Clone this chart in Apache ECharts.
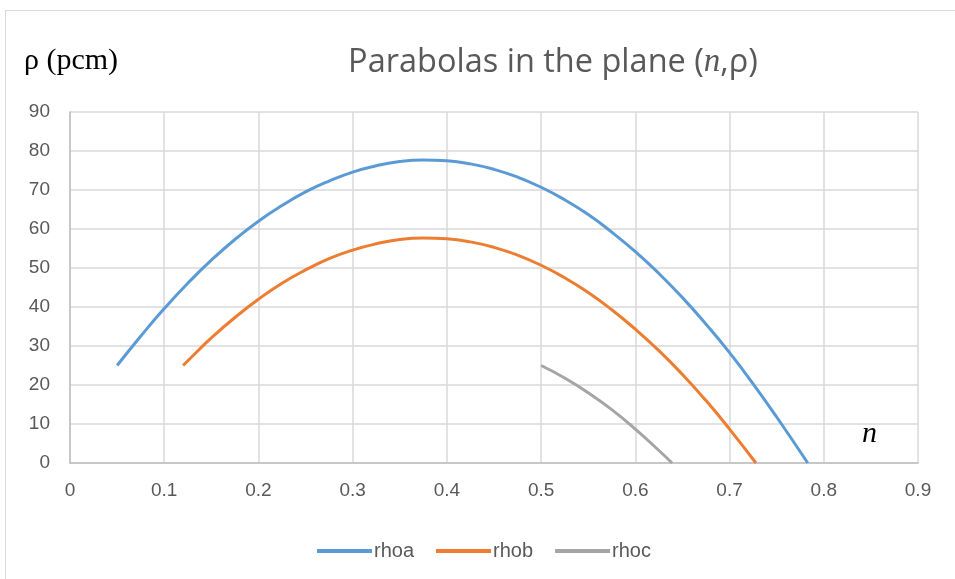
<!DOCTYPE html>
<html>
<head>
<meta charset="utf-8">
<script src="https://cdn.jsdelivr.net/npm/echarts@6/dist/echarts.min.js"></script>
<style>
html,body{margin:0;padding:0;background:#fff;}
#chart{width:955px;height:579px;}
</style>
</head>
<body>
<div id="chart"></div>
<script>
// Data
const rhoaN = [0.05, 0.075, 0.10, 0.125, 0.15, 0.175, 0.20, 0.225, 0.25, 0.275, 0.30, 0.325, 0.35, 0.375, 0.40, 0.425, 0.45, 0.475, 0.50, 0.525, 0.55, 0.575, 0.60, 0.625, 0.65, 0.675, 0.70, 0.725, 0.75, 0.783];
const rhoaV = [25.0, 32.5, 39.6, 46.1, 52.0, 57.3, 62.0, 66.0, 69.5, 72.3, 74.6, 76.2, 77.3, 77.7, 77.5, 76.7, 75.3, 73.3, 70.7, 67.5, 63.7, 59.2, 54.2, 48.6, 42.4, 35.6, 28.3, 20.3, 11.8, 0.0];
const rhobN = [0.12, 0.135, 0.15, 0.175, 0.20, 0.225, 0.25, 0.275, 0.30, 0.325, 0.35, 0.375, 0.40, 0.425, 0.45, 0.475, 0.50, 0.525, 0.55, 0.575, 0.60, 0.625, 0.65, 0.675, 0.70, 0.728];
const rhobV = [25.0, 28.6, 32.1, 37.3, 42.0, 46.1, 49.5, 52.4, 54.6, 56.2, 57.3, 57.7, 57.5, 56.7, 55.3, 53.3, 50.7, 47.5, 43.7, 39.3, 34.3, 28.8, 22.7, 16.0, 8.7, 0.0];
const rhocN = [0.50, 0.525, 0.55, 0.575, 0.60, 0.625, 0.639];
const rhocV = [25.0, 21.8, 18.0, 13.7, 8.7, 3.2, 0.0];
const xTicks = [0, 0.1, 0.2, 0.3, 0.4, 0.5, 0.6, 0.7, 0.8, 0.9];
const yTicks = [0, 10, 20, 30, 40, 50, 60, 70, 80, 90];
const seriesNames = ['rhoa', 'rhob', 'rhoc'];
const colors = ['#5B9BD5', '#ED7D31', '#A5A5A5'];

const pairs = (xs, ys) => xs.map((x, i) => [x, ys[i]]);
const seriesData = [pairs(rhoaN, rhoaV), pairs(rhobN, rhobV), pairs(rhocN, rhocV)];

const font = '"Liberation Sans", Arial, sans-serif';
const chart = echarts.init(document.getElementById('chart'));
chart.setOption({
  animation: false,
  backgroundColor: '#fff',
  title: {
    text: '{a|Parabolas in the plane (}{n|n}{a|,ρ)}',
    left: 548, top: 41, textAlign: 'center',
    textStyle: {
      fontWeight: 'normal',
      rich: {
        a: {fontFamily: '"Open Sans", sans-serif', fontWeight: 'normal', fontSize: 32.5, color: '#595959'},
        n: {fontFamily: '"Liberation Serif", serif', fontWeight: 'normal', fontStyle: 'italic', fontSize: 33, color: '#595959'}
      }
    }
  },
  graphic: [
    {type: 'rect', shape: {x: 5.5, y: 10.5, width: 1000, height: 1000}, style: {fill: 'none', stroke: '#D9D9D9', lineWidth: 1}, silent: true},
    {type: 'text', left: 24, top: 46, style: {text: 'ρ (pcm)', font: '30px "Liberation Serif", serif', fill: '#000'}},
    {type: 'text', left: 862, top: 419, style: {text: 'n', font: 'italic 30px "Liberation Serif", serif', fill: '#000'}}
  ],
  color: colors,
  legend: {
    data: seriesNames,
    top: 536, left: 312,
    itemWidth: 55, itemHeight: 4, itemGap: 22,
    icon: 'rect',
    textStyle: {color: '#595959', fontSize: 20, fontFamily: font, padding: [0, 0, 0, -3]}
  },
  grid: {left: 70, right: 37, top: 112, bottom: 116, containLabel: false},
  xAxis: {
    type: 'value', min: 0, max: 0.9, interval: 0.1,
    axisLine: {show: true, onZero: false, lineStyle: {color: '#BFBFBF', width: 1.5}},
    axisTick: {show: false},
    axisLabel: {color: '#595959', fontSize: 19, fontFamily: font, margin: 18,
      formatter: v => { const t = xTicks.find(x => Math.abs(x - v) < 1e-9); return t === undefined ? '' : String(t); }},
    splitLine: {show: true, lineStyle: {color: '#D9D9D9', width: 1.5}}
  },
  yAxis: {
    type: 'value', min: 0, max: 90, interval: 10,
    axisLine: {show: true, lineStyle: {color: '#BFBFBF', width: 1.5}},
    axisTick: {show: false},
    axisLabel: {color: '#595959', fontSize: 19, fontFamily: font, margin: 20,
      formatter: v => { const t = yTicks.find(y => Math.abs(y - v) < 1e-9); return t === undefined ? '' : String(t); }},
    splitLine: {show: true, lineStyle: {color: '#D9D9D9', width: 1.5}}
  },
  series: seriesNames.map((name, i) => ({
    name, type: 'line', data: seriesData[i], smooth: 0.5, showSymbol: false, symbol: 'none',
    lineStyle: {width: 3, color: colors[i]}, itemStyle: {color: colors[i]}, z: 3 + (2 - i)
  }))
});
</script>
</body>
</html>
